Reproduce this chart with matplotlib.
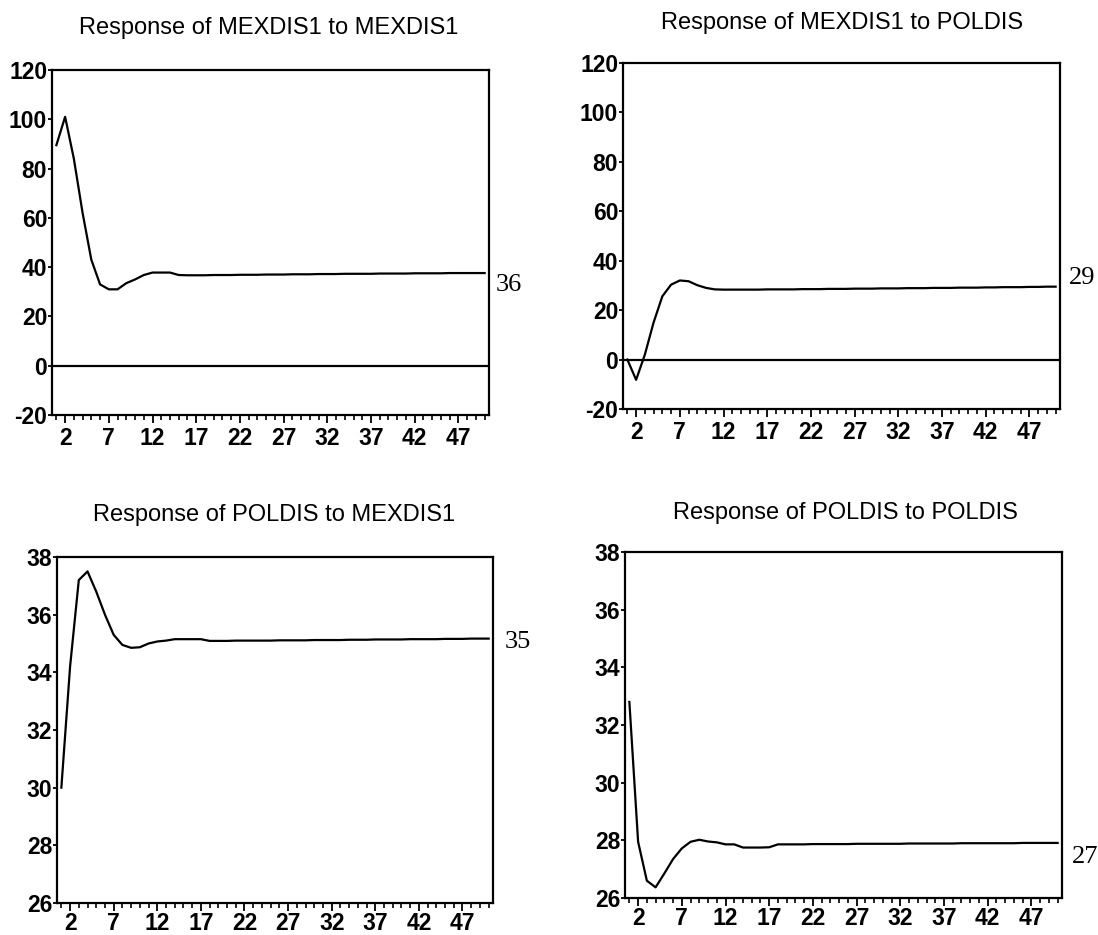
import matplotlib
matplotlib.use("Agg")
import matplotlib.pyplot as plt
from matplotlib.ticker import FixedLocator
import numpy as np

plt.rcParams['font.family'] = ['Liberation Sans', 'DejaVu Sans']
plt.rcParams['axes.unicode_minus'] = False

# impulse responses, periods 1..50
periods = np.arange(1, 51)

mex_to_mex = [89.5, 101.0, 84.0, 62.0, 43.0, 33.0, 31.0, 31.0, 33.5, 35.0,
              36.8, 37.8, 37.8, 37.8, 36.8, 36.7, 36.7, 36.7, 36.8, 36.8,
              36.8, 36.9, 36.9, 36.9, 37.0, 37.0, 37.0, 37.1, 37.1, 37.1,
              37.2, 37.2, 37.2, 37.3, 37.3, 37.3, 37.3, 37.4, 37.4, 37.4,
              37.4, 37.5, 37.5, 37.5, 37.5, 37.6, 37.6, 37.6, 37.6, 37.6]

mex_to_pol = [0.0, -8.2, 2.0, 15.0, 25.6, 30.3, 32.0, 31.7, 30.1, 29.0,
              28.4, 28.3, 28.3, 28.3, 28.3, 28.3, 28.4, 28.4, 28.4, 28.4,
              28.5, 28.5, 28.5, 28.6, 28.6, 28.6, 28.7, 28.7, 28.7, 28.8,
              28.8, 28.8, 28.9, 28.9, 28.9, 29.0, 29.0, 29.0, 29.1, 29.1,
              29.1, 29.2, 29.2, 29.3, 29.3, 29.3, 29.4, 29.4, 29.5, 29.5]

pol_to_mex = [30.0, 34.2, 37.2, 37.5, 36.8, 36.0, 35.3, 34.95, 34.85, 34.87,
              35.0, 35.07, 35.1, 35.15, 35.15, 35.15, 35.15, 35.09, 35.09, 35.09,
              35.1, 35.1, 35.1, 35.1, 35.1, 35.11, 35.11, 35.11, 35.11, 35.12,
              35.12, 35.12, 35.12, 35.13, 35.13, 35.13, 35.14, 35.14, 35.14, 35.14,
              35.15, 35.15, 35.15, 35.15, 35.16, 35.16, 35.16, 35.17, 35.17, 35.17]

pol_to_pol = [32.8, 27.95, 26.6, 26.37, 26.85, 27.35, 27.72, 27.95, 28.02, 27.96,
              27.93, 27.86, 27.86, 27.75, 27.75, 27.75, 27.76, 27.86, 27.86, 27.86,
              27.86, 27.87, 27.87, 27.87, 27.87, 27.87, 27.88, 27.88, 27.88, 27.88,
              27.88, 27.88, 27.89, 27.89, 27.89, 27.89, 27.89, 27.89, 27.9, 27.9,
              27.9, 27.9, 27.9, 27.9, 27.9, 27.91, 27.91, 27.91, 27.91, 27.91]

titles = ['Response of MEXDIS1 to MEXDIS1', 'Response of MEXDIS1 to POLDIS',
          'Response of POLDIS to MEXDIS1', 'Response of POLDIS to POLDIS']
series = [mex_to_mex, mex_to_pol, pol_to_mex, pol_to_pol]
end_labels = ['36', '29', '35', '27']
y_ranges = [(-20, 120), (-20, 120), (26, 38), (26, 38)]
y_ticks = [list(range(-20, 121, 20)), list(range(-20, 121, 20)),
           list(range(26, 39, 2)), list(range(26, 39, 2))]
x_ticks = list(range(2, 48, 5))

W, H = 1098, 935
fig = plt.figure(figsize=(W / 100, H / 100), dpi=100)

# pixel boxes (left, top, right, bottom), title centre, label offset (px)
boxes = [(52, 70, 489, 415), (623, 63, 1060, 409),
         (57, 557, 493, 903), (625, 552, 1062, 898)]
title_pos = [(269, 28), (842, 23), (274, 515), (845, 513)]
label_off = [(7, -12), (9, 9), (12, -3), (10, -14)]
x_pad = [3, 3, 1, 1]

for i in range(4):
    l, t, r, b = boxes[i]
    ax = fig.add_axes([l / W, 1 - b / H, (r - l) / W, (b - t) / H])
    ax.plot(periods, series[i], color='black', lw=1.6)
    if y_ranges[i][0] < 0:
        ax.axhline(0, color='black', lw=1.6)
    ax.set_xlim(0.5, 50.5)
    ax.set_ylim(*y_ranges[i])
    ax.set_yticks(y_ticks[i])
    ax.set_xticks(x_ticks)
    ax.xaxis.set_minor_locator(FixedLocator(periods))
    ax.tick_params(axis='x', which='major', direction='out', length=5.8,
                   width=1.3, labelsize=16.5, pad=x_pad[i])
    ax.tick_params(axis='x', which='minor', direction='out', length=3.6,
                   width=1.2)
    ax.tick_params(axis='y', which='major', direction='out', length=3,
                   width=1.3, labelsize=16.5, pad=0.5)
    for lab in ax.get_xticklabels() + ax.get_yticklabels():
        lab.set_fontweight('bold')
    for sp in ax.spines.values():
        sp.set_linewidth(1.6)
    dx, dy = label_off[i]
    ax.annotate(end_labels[i], xy=(1, series[i][-1]),
                xycoords=('axes fraction', 'data'),
                xytext=(dx * 0.72, dy * 0.72), textcoords='offset points',
                ha='left', va='center', fontsize=19,
                family=['Liberation Serif', 'DejaVu Serif'],
                annotation_clip=False)
    fig.text(title_pos[i][0] / W, 1 - title_pos[i][1] / H, titles[i],
             ha='center', va='center', fontsize=17)

fig.savefig('out.png', dpi=100)
